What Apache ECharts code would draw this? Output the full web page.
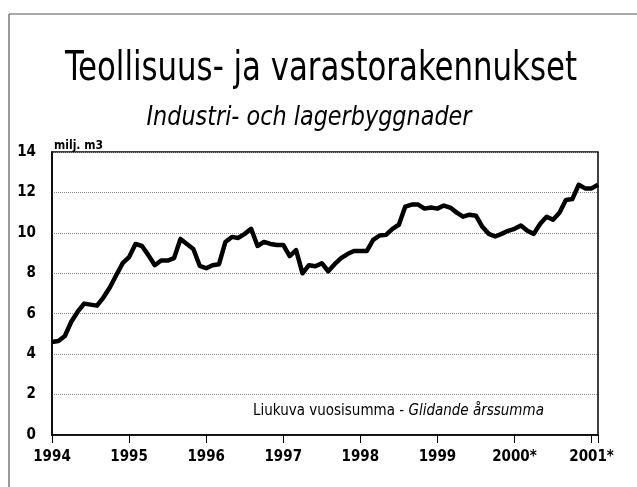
<!DOCTYPE html>
<html>
<head>
<meta charset="utf-8">
<script src="https://cdn.jsdelivr.net/npm/echarts@6/dist/echarts.min.js"></script>
<style>
html,body{margin:0;padding:0;background:#fff;}
#c{width:637px;height:487px;}
</style>
</head>
<body>
<div id="c"></div>
<script>
// Monthly moving annual sum, Jan 1994 .. Feb 2001 (milj. m3)
const startYear = 1994;
const values = [
  4.6, 4.65, 4.9, 5.6, 6.1, 6.5, 6.45, 6.4, 6.8, 7.3, 7.9, 8.5,
  8.8, 9.45, 9.35, 8.9, 8.4, 8.63, 8.63, 8.75, 9.7, 9.45, 9.2, 8.37,
  8.25, 8.4, 8.45, 9.55, 9.8, 9.75, 9.95, 10.2, 9.35, 9.55, 9.45, 9.4,
  9.4, 8.85, 9.15, 8.0, 8.4, 8.35, 8.5, 8.1, 8.45, 8.75, 8.95, 9.1,
  9.1, 9.1, 9.65, 9.87, 9.9, 10.2, 10.4, 11.3, 11.4, 11.4, 11.2, 11.25,
  11.2, 11.35, 11.25, 11.0, 10.8, 10.9, 10.85, 10.3, 9.95, 9.82, 9.95, 10.1,
  10.2, 10.36, 10.1, 9.95, 10.45, 10.8, 10.65, 11.0, 11.63, 11.67, 12.38, 12.2,
  12.2, 12.38
];
const yearLabels = ['1994','1995','1996','1997','1998','1999','2000*','2001*'];
const yTicks = [0, 2, 4, 6, 8, 10, 12, 14];
const titleText = 'Teollisuus- ja varastorakennukset';
const subtitleText = 'Industri- och lagerbyggnader';
const unitText = 'milj. m3';
const noteFi = 'Liukuva vuosisumma - ';
const noteSv = 'Glidande årssumma';

const FONT = '"Liberation Sans Narrow","DejaVu Sans Condensed","Roboto Condensed",sans-serif';
const seriesData = values.map((v, i) => [startYear + i / 12, v]);
const xMax = startYear + (values.length - 1) / 12;

const chart = echarts.init(document.getElementById('c'), null, {renderer: 'canvas'});
chart.setOption({
  animation: false,
  backgroundColor: '#fff',
  grid: {left: 52, right: 39, top: 152, bottom: 52, show: true, borderColor: '#000', borderWidth: 1.5, backgroundColor: 'transparent'},
  xAxis: {
    type: 'value', min: startYear, max: xMax, interval: 1,
    axisLine: {show: true, lineStyle: {color: '#000', width: 1.5}},
    axisTick: {show: true, length: 8, lineStyle: {color: '#000', width: 1}},
    splitLine: {show: false},
    axisLabel: {
      margin: 15, color: '#000', fontFamily: FONT, fontWeight: 'bold', fontSize: 15,
      formatter: v => { const k = Math.round(v - startYear); return (Math.abs(v - startYear - k) < 1e-6 && yearLabels[k]) ? yearLabels[k] : ''; }
    }
  },
  yAxis: {
    type: 'value', min: yTicks[0], max: yTicks[yTicks.length - 1], interval: 2,
    axisLine: {show: true, lineStyle: {color: '#000', width: 1.5}},
    axisTick: {show: false},
    splitLine: {show: true, lineStyle: {color: '#888', type: [1, 1], width: 1}},
    axisLabel: {margin: 16, color: '#000', fontFamily: FONT, fontWeight: 'bold', fontSize: 15}
  },
  series: [{
    type: 'line', data: seriesData, showSymbol: false, symbol: 'none',
    lineStyle: {color: '#000', width: 4.5, join: 'round'}
  }],
  graphic: [
    {type: 'line', shape: {x1: 9, y1: 14, x2: 637, y2: 14}, style: {stroke: '#555', lineWidth: 1.2}},
    {type: 'line', shape: {x1: 9, y1: 14, x2: 9, y2: 487}, style: {stroke: '#555', lineWidth: 1.2}},
    {type: 'text', x: 321, y: 70, scaleX: 0.856, style: {text: titleText, fill: '#000', font: '40px ' + FONT, textAlign: 'center', textVerticalAlign: 'middle'}},
    {type: 'text', x: 309, y: 118, scaleX: 0.92, style: {text: subtitleText, fill: '#000', font: 'italic 27px ' + FONT, textAlign: 'center', textVerticalAlign: 'middle'}},
    {type: 'text', x: 54, y: 146, style: {text: unitText, fill: '#000', font: 'bold 12px ' + FONT, textAlign: 'left', textVerticalAlign: 'middle'}},
    {type: 'text', x: 253, y: 411, style: {
      text: '{a|' + noteFi + '}{b|' + noteSv + '}', textVerticalAlign: 'middle',
      rich: {a: {fontFamily: FONT, fontSize: 15, color: '#000'}, b: {fontFamily: FONT, fontSize: 15, fontStyle: 'italic', color: '#000'}}
    }}
  ]
});
</script>
</body>
</html>
